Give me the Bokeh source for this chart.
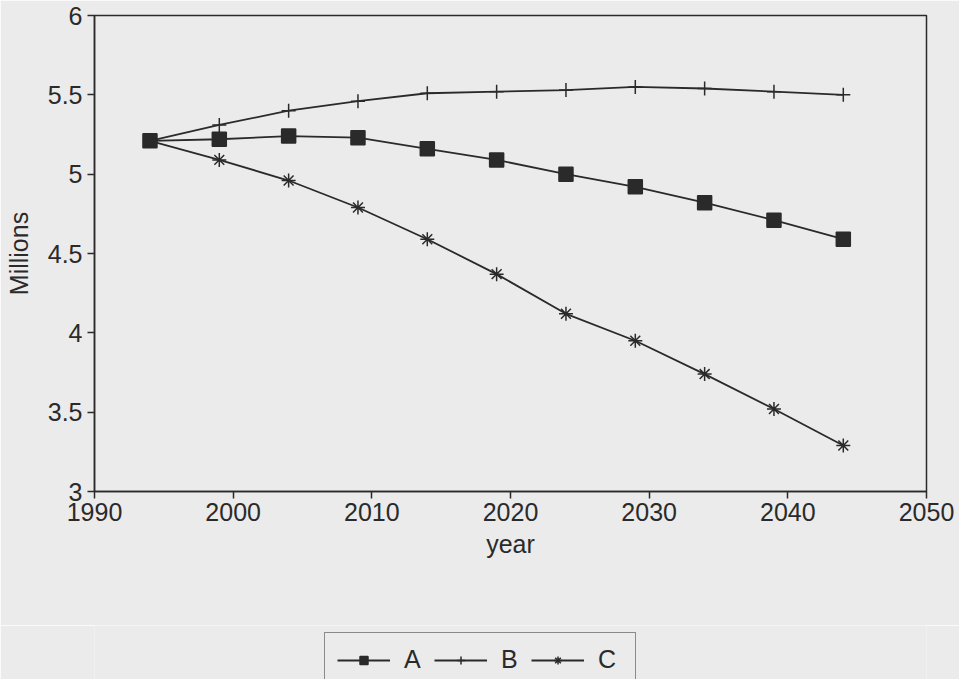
from bokeh.plotting import figure
from bokeh.layouts import column
from bokeh.models import FixedTicker, Legend, LegendItem, Range1d
from bokeh.embed import file_html
from bokeh.resources import INLINE

# ---- data ----
years = [1994, 1999, 2004, 2009, 2014, 2019, 2024, 2029, 2034, 2039, 2044]
scen_a = [5.21, 5.22, 5.24, 5.23, 5.16, 5.09, 5.00, 4.92, 4.82, 4.71, 4.59]
scen_b = [5.21, 5.31, 5.40, 5.46, 5.51, 5.52, 5.53, 5.55, 5.54, 5.52, 5.50]
scen_c = [5.21, 5.09, 4.96, 4.79, 4.59, 4.37, 4.12, 3.95, 3.74, 3.52, 3.29]
series_names = ["A", "B", "C"]
x_ticks = [1990, 2000, 2010, 2020, 2030, 2040, 2050]
y_ticks = [3, 3.5, 4, 4.5, 5, 5.5, 6]
y_tick_labels = ["3", "3.5", "4", "4.5", "5", "5.5", "6"]
x_label = "year"
y_label = "Millions"

BG = "#ebebeb"
INK = "#2a2a2a"
FONT = "Liberation Sans"
FS = "25px"

p = figure(width=959, height=625, output_backend="svg", toolbar_location=None,
           x_range=Range1d(1990, 2050), y_range=Range1d(3, 6),
           min_border_left=94, min_border_right=33, min_border_top=15, min_border_bottom=134)
p.background_fill_color = BG
p.border_fill_color = BG
p.outline_line_color = INK
p.outline_line_width = 1.5
p.xgrid.visible = False
p.ygrid.visible = False

for ax in (p.xaxis[0], p.yaxis[0]):
    ax.axis_line_color = INK
    ax.axis_line_width = 1.5
    ax.major_tick_line_color = INK
    ax.major_tick_line_width = 1.5
    ax.major_tick_in = 0
    ax.major_tick_out = 7
    ax.minor_tick_line_color = None
    ax.major_label_text_font = FONT
    ax.major_label_text_font_size = FS
    ax.major_label_text_color = INK
    ax.axis_label_text_font = FONT
    ax.axis_label_text_font_size = FS
    ax.axis_label_text_font_style = "normal"
    ax.axis_label_text_color = INK

p.xaxis[0].ticker = FixedTicker(ticks=x_ticks)
p.yaxis[0].ticker = FixedTicker(ticks=y_ticks)
p.yaxis[0].major_label_overrides = {t: l for t, l in zip(y_ticks, y_tick_labels)}
p.xaxis[0].axis_label = x_label
p.yaxis[0].axis_label = y_label
p.xaxis[0].major_label_standoff = 4
p.yaxis[0].major_label_standoff = 5
p.xaxis[0].axis_label_standoff = 6
p.yaxis[0].axis_label_standoff = 12

series = [(scen_a, "square"), (scen_b, "cross"), (scen_c, "asterisk")]
for vals, mk in series:
    p.line(years, vals, line_color=INK, line_width=1.8)
    p.scatter(years, vals, marker=mk, size=14, fill_color=INK, line_color=INK,
              line_width=1.5)

# legend strip below the chart
p2 = figure(width=959, height=54, output_backend="svg", toolbar_location=None,
            x_axis_type=None, y_axis_type=None,
            min_border_left=0, min_border_right=0, min_border_top=0, min_border_bottom=0)
p2.background_fill_color = BG
p2.border_fill_color = BG
p2.outline_line_color = None
p2.xgrid.visible = False
p2.ygrid.visible = False

items = []
for name, (vals, mk) in zip(series_names, series):
    l = p2.line(years, vals, line_color=INK, line_width=1.8, visible=False)
    m = p2.scatter(years, vals, marker=mk, size=14, fill_color=INK, line_color=INK,
                   line_width=1.5, visible=False)
    items.append(LegendItem(label=name, renderers=[l, m]))

legend = Legend(items=items, orientation="horizontal", location=(230, -8))
legend.background_fill_color = BG
legend.background_fill_alpha = 1
legend.border_line_color = INK
legend.border_line_width = 1.5
legend.inactive_fill_alpha = 0
legend.label_text_font = FONT
legend.label_text_font_size = FS
legend.label_text_color = INK
legend.glyph_width = 53
legend.glyph_height = 20
legend.label_standoff = 14
legend.label_width = 25
legend.spacing = 5
legend.padding = 12
legend.margin = 0
p2.add_layout(legend, "center")

layout = column(p, p2, spacing=0)
open("out.html", "w").write(file_html(layout, INLINE))
